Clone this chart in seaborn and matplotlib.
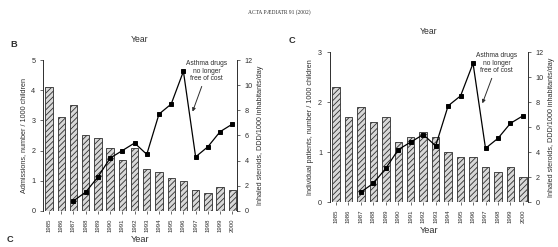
import numpy as np
import pandas as pd
import seaborn as sns
import matplotlib.pyplot as plt

# values
years = [str(y) for y in range(1985, 2001)]
admissions = [4.1, 3.1, 3.5, 2.5, 2.4, 2.1, 1.7, 2.1, 1.4, 1.3, 1.1, 1.0, 0.7, 0.6, 0.8, 0.7]
patients = [2.3, 1.7, 1.9, 1.6, 1.7, 1.2, 1.3, 1.4, 1.3, 1.0, 0.9, 0.9, 0.7, 0.6, 0.7, 0.5]
steroid_years = [str(y) for y in range(1987, 2001)]
steroids = [0.8, 1.5, 2.7, 4.2, 4.8, 5.4, 4.5, 7.7, 8.5, 11.1, 4.3, 5.1, 6.3, 6.9]

sns.set_theme(style="ticks")
plt.rcParams['font.family'] = ['Liberation Sans', 'DejaVu Sans']
plt.rcParams['hatch.linewidth'] = 0.6
ink = "#2e2e2e"
fs = 5.2

df_bars = pd.DataFrame({"Year": years, "admissions": admissions, "patients": patients})
df_line = pd.DataFrame({"Year": steroid_years, "steroids": steroids})

fig = plt.figure(figsize=(5.58, 2.47), dpi=100)
fig.text(0.5, 0.95, "ACTA PÆDIATR 91 (2002)", ha="center", va="center",
         fontsize=4, color=ink, family="Liberation Serif")


def panel(rect, col, ymax, yticks, ylabel, letter, letter_xy):
    ax = fig.add_axes(rect)
    sns.barplot(data=df_bars, x="Year", y=col, order=years, ax=ax, width=0.6,
                color="#d8d8d8", edgecolor=ink, linewidth=0.6, hatch="//////")
    ax.set_ylim(0, ymax)
    ax.set_yticks(yticks)
    ax.set_xlim(-0.5, 15.4)
    ax.set_ylabel(ylabel, fontsize=fs, color=ink, labelpad=3)
    ax.set_xlabel("Year", fontsize=fs + 1.5, color=ink, labelpad=2)
    ax.set_title("Year", fontsize=fs + 1, color=ink, pad=13)
    ax.tick_params(axis="x", labelrotation=90, labelsize=4.3, colors=ink, length=2, width=0.5)
    ax.tick_params(axis="y", labelsize=fs, colors=ink, length=2, width=0.5)
    for s in ["top", "right"]:
        ax.spines[s].set_visible(False)
    ax.spines["left"].set_linewidth(0.7)
    ax.spines["bottom"].set_visible(False)
    ax.spines["left"].set_color(ink)

    ax2 = ax.twinx()
    sns.pointplot(data=df_line, x="Year", y="steroids", order=years, ax=ax2,
                  color="black", markers="s", markersize=3, linewidth=0.9)
    ax2.set_ylim(0, 12)
    ax2.set_yticks(range(0, 13, 2))
    ax2.set_xlim(-0.5, 15.4)
    ax2.set_ylabel("Inhaled steroids, DDD/1000 inhabitants/day", fontsize=fs,
                   color=ink, labelpad=3)
    ax2.tick_params(axis="y", labelsize=fs, colors=ink, length=2, width=0.5)
    for s in ["top", "left", "bottom"]:
        ax2.spines[s].set_visible(False)
    ax2.spines["right"].set_linewidth(0.7)
    ax2.spines["right"].set_color(ink)
    ax2.text(12.9, 11.1, "Asthma drugs\nno longer\nfree of cost", ha="center", va="center",
             fontsize=fs - 0.4, color=ink, linespacing=1.1)
    ax2.annotate("", xy=(11.75, 7.9), xytext=(12.5, 9.9),
                 arrowprops=dict(arrowstyle="-|>", color=ink, lw=0.7, mutation_scale=5,
                                 shrinkA=0, shrinkB=0))
    ax.text(letter_xy[0], letter_xy[1], letter, transform=ax.transAxes, fontsize=fs + 1.5,
            fontweight="bold", color=ink, va="center")
    return ax


panel([0.077, 0.146, 0.348, 0.611], "admissions", 5, range(0, 6),
      "Admissions, number / 1000 children", "B", (-0.17, 1.10))
panel([0.591, 0.182, 0.355, 0.607], "patients", 3, range(0, 4),
      "Individual patients, number / 1000 children", "C", (-0.21, 1.08))
fig.text(0.012, 0.03, "C", fontsize=fs + 1.5, fontweight="bold", color=ink, va="center")

fig.savefig("out.png", dpi=100)
